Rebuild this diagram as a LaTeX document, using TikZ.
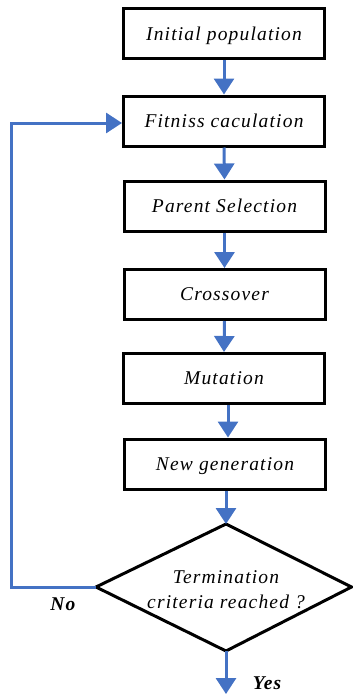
\documentclass[tikz,border=0pt]{standalone}
\usepackage{fontspec}
\setmainfont{Liberation Serif}
\newfontfamily\spacedserif[LetterSpace=6]{Liberation Serif}
\usetikzlibrary{arrows.meta}
\definecolor{flowblue}{HTML}{4472C4}
\tikzset{
  procbox/.style={draw=black, line width=3pt, fill=white, minimum width=201pt, minimum height=50pt, inner sep=0pt, text depth=0pt, font=\spacedserif\fontsize{19.5}{22}\selectfont\itshape},
  flowarrow/.style={draw=flowblue, line width=3pt, -{Triangle[length=16pt,width=20pt]}},
  answer/.style={font=\spacedserif\fontsize{19.5}{22}\selectfont\bfseries\itshape, inner sep=0pt},
}
\begin{document}
\begin{tikzpicture}[x=1pt,y=-1pt]
\useasboundingbox (0,0) rectangle (353,696);
\node[procbox] (init) at (224,33.5) {Initial population};
\node[procbox] (fit) at (224,121) {Fitniss caculation};
\node[procbox] (sel) at (224.5,206) {Parent Selection};
\node[procbox] (cross) at (224.5,294.5) {Crossover};
\node[procbox] (mut) at (224,378.5) {Mutation};
\node[procbox] (newg) at (225,464) {New generation};
\coordinate (dt) at (226,524);
\coordinate (dr) at (351.5,587);
\coordinate (db) at (226,651);
\coordinate (dl) at (96,587);
\draw[line width=3pt, line join=miter, fill=white] (dt) -- (dr) -- (db) -- (dl) -- cycle;
\node[font=\spacedserif\fontsize{19.5}{25}\selectfont\itshape, align=center, inner sep=0pt] (crit) at (226,590) {Termination\\criteria reached ?};
\coordinate (mutb) at ([xshift=4pt]mut.south);
\coordinate (newgt) at ([xshift=3pt]newg.north);
\draw[flowarrow] (init.south) -- (fit.north);
\draw[flowarrow] (fit.south) -- (sel.north);
\draw[flowarrow] (sel.south) -- (cross.north);
\draw[flowarrow] (cross.south) -- (mut.north);
\draw[flowarrow] (mutb) -- (newgt);
\draw[flowarrow] ([xshift=1pt]newg.south) -- (dt);
\coordinate (yesend) at (226,694);
\draw[flowarrow] (db) -- (yesend);
\coordinate (lb) at (11,587);
\coordinate (lt) at (11,123);
\draw[flowarrow] (dl) -- (lb) -- (lt) -- (fit.west |- lt);
\node[answer] (no) at (63,604) {No};
\node[answer] (yes) at (267,683) {Yes};
\end{tikzpicture}
\end{document}
